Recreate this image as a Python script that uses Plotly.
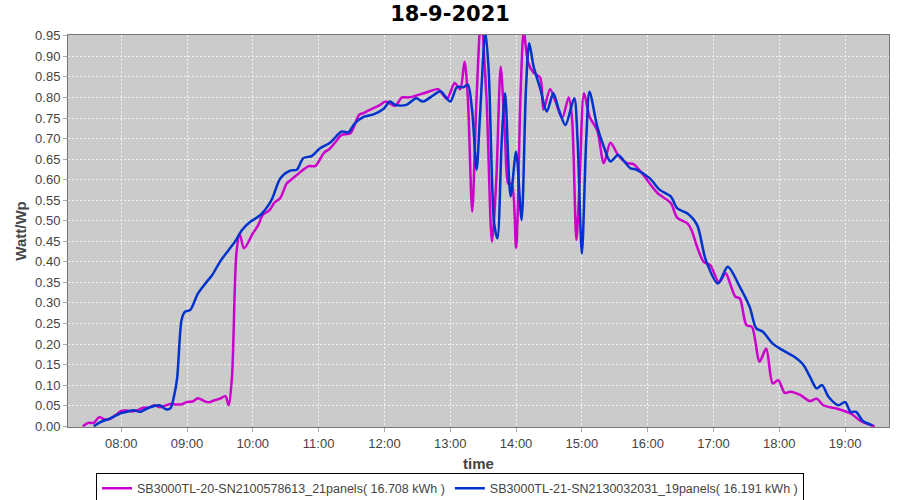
import plotly.graph_objects as go

DAY = "2021-09-18 "

# Series 1 (magenta)
s1_name = "SB3000TL-20-SN2100578613_21panels( 16.708 kWh )"
s1_time = ["07:25","07:30","07:35","07:40","07:45","07:50","07:55","08:00","08:05","08:10",
           "08:15","08:20","08:25","08:30","08:35","08:40","08:45","08:50","08:55","09:00",
           "09:05","09:10","09:15","09:20","09:25","09:30","09:35","09:38","09:41","09:45",
           "09:48","09:52","10:00","10:05","10:09","10:15","10:20","10:25","10:31","10:35",
           "10:40","10:45","10:51","10:57","11:05","11:10","11:14","11:21","11:29","11:37",
           "11:41","11:50","11:55","12:01","12:05","12:10","12:16","12:21","12:26","12:33",
           "12:40","12:49","12:57","13:04","13:09","13:13","13:16","13:20","13:24","13:28",
           "13:33","13:38","13:42","13:46","13:50","13:53","13:56","14:00","14:04","14:07",
           "14:11","14:16","14:22","14:25","14:31","14:36","14:42","14:48","14:51","14:55",
           "14:58","15:02","15:07","15:14","15:20","15:26","15:33","15:41","15:47","15:55",
           "16:02","16:09","16:21","16:27","16:36","16:40","16:45","16:51","16:57","17:05",
           "17:11","17:15","17:20","17:24","17:30","17:35","17:42","17:48","17:54","17:59",
           "18:05","18:10","18:19","18:28","18:34","18:40","18:52","19:05","19:14","19:24",
           "19:27"]
s1_vals = [0.0,0.008,0.008,0.022,0.016,0.018,0.027,0.037,0.038,0.036,
           0.039,0.045,0.045,0.051,0.046,0.050,0.054,0.053,0.053,0.059,
           0.060,0.068,0.062,0.058,0.063,0.067,0.073,0.051,0.12,0.42,
           0.468,0.433,0.469,0.49,0.514,0.525,0.545,0.555,0.591,0.60,
           0.611,0.622,0.633,0.633,0.666,0.675,0.687,0.709,0.713,0.758,
           0.762,0.774,0.78,0.79,0.785,0.78,0.80,0.80,0.802,0.808,
           0.814,0.82,0.797,0.835,0.82,0.887,0.80,0.522,0.80,0.99,
           0.80,0.449,0.60,0.875,0.70,0.59,0.59,0.434,0.80,0.96,
           0.885,0.86,0.848,0.77,0.82,0.79,0.75,0.80,0.75,0.453,
           0.60,0.81,0.753,0.72,0.64,0.69,0.66,0.64,0.638,0.615,
           0.59,0.567,0.543,0.507,0.494,0.477,0.437,0.40,0.392,0.35,
           0.373,0.348,0.315,0.311,0.246,0.242,0.157,0.189,0.104,0.112,
           0.081,0.084,0.076,0.061,0.067,0.051,0.043,0.031,0.013,0.002,
           0.0]

# Series 2 (blue)
s2_name = "SB3000TL-21-SN2130032031_19panels( 16.191 kWh )"
s2_time = ["07:35","07:41","07:50","08:00","08:05","08:11","08:17","08:26","08:35","08:41",
           "08:45","08:48","08:51","08:55","08:58","09:03","09:10","09:17","09:23","09:30",
           "09:38","09:44","09:50","09:58","10:07","10:17","10:25","10:34","10:40","10:46",
           "10:54","11:01","11:10","11:21","11:27","11:33","11:41","11:50","11:59","12:05",
           "12:10","12:20","12:29","12:35","12:45","12:51","13:00","13:06","13:12","13:16",
           "13:20","13:24","13:27","13:32","13:35","13:40","13:43","13:47","13:50","13:55",
           "14:00","14:05","14:09","14:12","14:16","14:22","14:28","14:34","14:39","14:45",
           "14:53","14:56","15:00","15:04","15:07","15:14","15:20","15:26","15:33","15:44",
           "15:50","16:02","16:11","16:21","16:27","16:36","16:45","16:53","17:04","17:13",
           "17:24","17:33","17:39","17:45","17:54","18:03","18:13","18:22","18:28","18:34",
           "18:39","18:45","18:54","19:00","19:05","19:10","19:16","19:25"]
s2_vals = [0.0,0.01,0.019,0.032,0.035,0.039,0.035,0.046,0.051,0.041,
           0.044,0.071,0.117,0.258,0.278,0.283,0.323,0.348,0.368,0.40,
           0.429,0.45,0.477,0.498,0.514,0.55,0.603,0.622,0.624,0.652,
           0.658,0.676,0.689,0.717,0.715,0.737,0.753,0.759,0.772,0.79,
           0.782,0.782,0.798,0.79,0.806,0.815,0.79,0.825,0.825,0.831,
           0.766,0.624,0.75,0.96,0.867,0.494,0.457,0.70,0.81,0.559,
           0.668,0.502,0.82,0.932,0.875,0.822,0.766,0.81,0.77,0.733,
           0.798,0.70,0.42,0.70,0.814,0.729,0.68,0.644,0.66,0.628,
           0.624,0.603,0.575,0.559,0.53,0.518,0.49,0.404,0.347,0.388,
           0.339,0.29,0.238,0.23,0.201,0.185,0.17,0.149,0.12,0.092,
           0.10,0.071,0.051,0.059,0.035,0.035,0.013,0.002]

title_text = "18-9-2021"
x_title = "time"
y_title = "Watt/Wp"

fig = go.Figure()
fig.add_trace(go.Scatter(x=[DAY + t for t in s1_time], y=s1_vals, mode="lines",
                         name=s1_name, line=dict(color="#cc00cc", width=2.5, shape="spline", smoothing=0.8)))
fig.add_trace(go.Scatter(x=[DAY + t for t in s2_time], y=s2_vals, mode="lines",
                         name=s2_name, line=dict(color="#0033cc", width=2.5, shape="spline", smoothing=0.8)))

FONT = "Liberation Sans"
fig.update_layout(
    width=900, height=500,
    margin=dict(l=68, r=11, t=35, b=73, autoexpand=False),
    paper_bgcolor="white", plot_bgcolor="#cbcbcb",
    font=dict(family=FONT, color="#444444", size=13),
    title=dict(text="<b>" + title_text + "</b>", x=0.5, xanchor="center",
               y=0.972, yanchor="middle",
               font=dict(family="DejaVu Sans", size=21, color="#000000")),
    showlegend=True,
    legend=dict(orientation="h", x=0.4653, xanchor="center",
                y=-0.157, yanchor="middle",
                bordercolor="#000000", borderwidth=1, bgcolor="white",
                font=dict(family=FONT, size=12.5, color="#444444"),
                itemwidth=30, tracegroupgap=0),
)
fig.update_xaxes(
    type="date", automargin=False,
    range=[DAY + "07:11:30", DAY + "19:40:00"],
    tickformat="%H:%M", dtick=3600000, tick0=DAY + "08:00", tickangle=0,
    showgrid=True, gridcolor="#f2f2f2", griddash="2px,2px", gridwidth=1,
    showline=True, linecolor="#777777", mirror=True, linewidth=1,
    ticks="outside", ticklen=4, tickcolor="#aaaaaa",
    tickfont=dict(family=FONT, size=13, color="#444444"),
    title=dict(text="<b>" + x_title + "</b>", font=dict(family=FONT, size=15, color="#444444"), standoff=8),
    zeroline=False,
)
fig.update_yaxes(
    automargin=False,
    range=[-0.002, 0.952], dtick=0.05, tick0=0, tickformat=".2f",
    showgrid=True, gridcolor="#f2f2f2", griddash="2px,2px", gridwidth=1,
    showline=True, linecolor="#777777", mirror=True, linewidth=1,
    ticks="outside", ticklen=4, tickcolor="#aaaaaa",
    tickfont=dict(family=FONT, size=13, color="#444444"),
    title=dict(text="<b>" + y_title + "</b>", font=dict(family=FONT, size=15, color="#444444"), standoff=4),
    zeroline=False,
)

fig.write_html("out.html", config={"displayModeBar": False},
               post_script="document.body.style.margin='0';document.body.style.overflow='hidden';")
